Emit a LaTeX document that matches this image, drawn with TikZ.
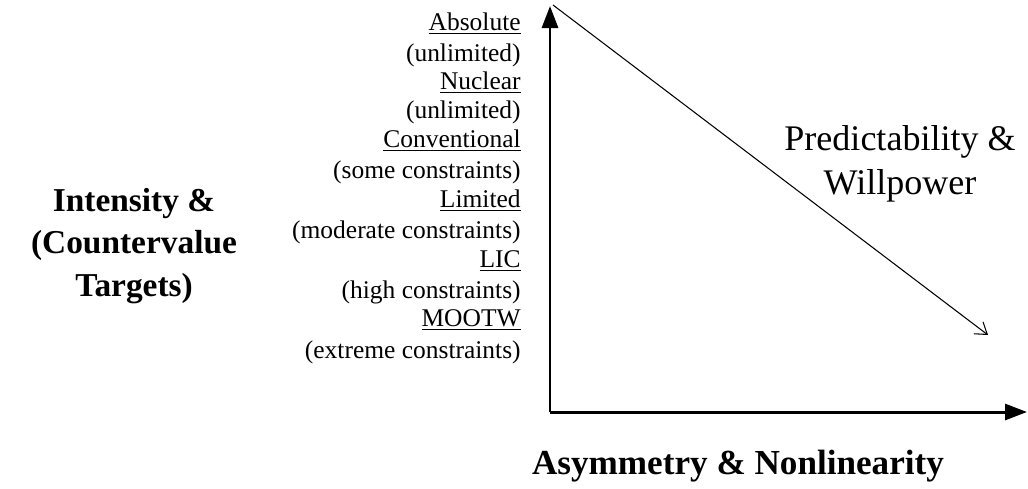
\documentclass[tikz,border=0pt]{standalone}
\usepackage{fontspec}
\setmainfont{Liberation Serif}
\usetikzlibrary{arrows.meta}

\tikzset{
  level/.style={anchor=east, inner sep=0pt, font=\fontsize{14.5}{16}\selectfont},
  axislabel/.style={align=center, inner sep=0pt, font=\fontsize{19}{24}\selectfont\bfseries},
}

\begin{document}
\begin{tikzpicture}[x=0.02cm, y=-0.02cm]
  \useasboundingbox (0,0) rectangle (1028,488);

  % Axes
  \coordinate (o) at (550,412);
  \coordinate (ytop) at (550,6);
  \coordinate (xend) at (1027,412);
  \draw[line width=1.7pt, -{Triangle[length=0.44cm, width=0.32cm]}] (o) -- (ytop);
  \draw[line width=1.7pt, -{Triangle[length=0.44cm, width=0.32cm]}] (o) -- (xend);

  % Trend arrow
  \coordinate (tstart) at (553,5);
  \coordinate (tend) at (988,335);
  \draw[line width=0.6pt, -{Straight Barb[length=0.22cm, width=0.3cm]}] (tstart) -- (tend);

  % Levels of war
  \node[level] (abs)  at (521,24)  {\underline{Absolute}};
  \node[level] (absc) at (521,55)  {(unlimited)};
  \node[level] (nuc)  at (521,83)  {\underline{Nuclear}};
  \node[level] (nucc) at (521,112) {(unlimited)};
  \node[level] (conv) at (521,141) {\underline{Conventional}};
  \node[level] (convc) at (521,172) {(some constraints)};
  \node[level] (lim)  at (521,201) {\underline{Limited}};
  \node[level] (limc) at (521,232) {(moderate constraints)};
  \node[level] (lic)  at (521,261) {\underline{LIC}};
  \node[level] (licc) at (521,292) {(high constraints)};
  \node[level] (moo)  at (521,320) {\underline{MOOTW}};
  \node[level] (mooc) at (521,352) {(extreme constraints)};

  % Labels
  \node[axislabel] (intensity) at (134,246) {Intensity \&\\(Countervalue\\Targets)};
  \node[axislabel, font=\fontsize{20}{24}\selectfont\bfseries] (asym) at (738,466) {Asymmetry \& Nonlinearity};
  \node[align=center, inner sep=0pt, font=\fontsize{20.5}{25}\selectfont] (pred) at (900,164) {Predictability \&\\Willpower};
\end{tikzpicture}
\end{document}
